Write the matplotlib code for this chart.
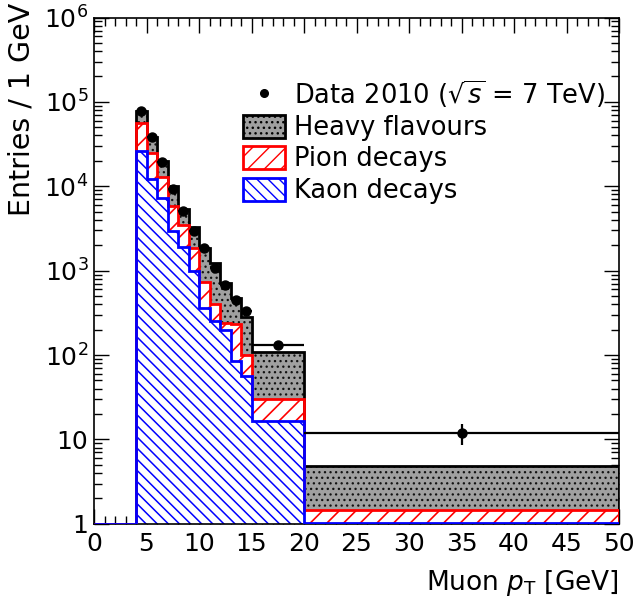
import numpy as np
import matplotlib
matplotlib.use("Agg")
import matplotlib.pyplot as plt
from matplotlib.patches import Patch
from matplotlib.lines import Line2D
from matplotlib.ticker import MultipleLocator, LogLocator, FixedLocator, FuncFormatter, NullFormatter

# ---- histogram content (entries / 1 GeV) ----
bin_edges = [0, 4, 5, 6, 7, 8, 9, 10, 11, 12, 13, 14, 15, 20, 50]

kaon_decays = [0, 26400, 12300, 7270, 2920, 1900, 1000, 360, 252, 199, 84, 56, 16.7, 1.03]
pion_decays = [0, 29600, 12500, 5530, 2860, 1530, 850, 365, 153, 40, 152, 44, 13.3, 0.43]
heavy_flavours = [0, 22900, 13200, 7300, 4220, 1990, 1400, 1125, 815, 474, 237, 186, 80, 3.39]

# data points live in the populated bins (4-5 GeV onwards)
data_counts = [77500, 38000, 19400, 9300, 5150, 2920, 1850, 1070, 675, 447, 330, 131, 12]
data_errors = [280, 195, 139, 96, 72, 54, 43, 33, 26, 21, 18, 11, 3.4]

y_decades = [0, 1, 2, 3, 4, 5, 6]
y_min, y_max = 1, 1e6

plt.rcParams["font.family"] = ["DejaVu Sans"]
plt.rcParams["mathtext.fontset"] = "dejavusans"

fig = plt.figure(figsize=(6.37, 6.09), dpi=100)
W, H = 637, 609
ax = fig.add_axes([94 / W, 1 - 523.8 / H, (619 - 94) / W, (523.8 - 17.5) / H])
ax.set_yscale("log")

edges = np.array(bin_edges, dtype=float)
kaon = np.array(kaon_decays)
pion = np.array(pion_decays)
heavy = np.array(heavy_flavours)

# stacked tops: kaon at the bottom, pion on top of it, heavy flavours on top
top_kaon = kaon
top_pion = kaon + pion
top_total = kaon + pion + heavy

layers = [
    # tops, face, hatch, hatch colour, outline colour, hatch width
    (top_total, "#a0a0a0", "...", "#111111", "black", 0.9),
    (top_pion, "white", "//", "red", "red", 1.2),
    (top_kaon, "white", "\\\\\\", "blue", "blue", 1.1),
]
for tops, face, hatch, hcol, lcol, hlw in layers:
    plt.rcParams["hatch.linewidth"] = hlw
    vals = np.maximum(tops, y_min)
    ax.stairs(vals, edges, baseline=y_min, fill=True, facecolor=face,
              edgecolor=hcol, hatch=hatch, linewidth=0, zorder=2)
    ax.stairs(vals, edges, baseline=y_min, fill=False, color=lcol,
              linewidth=2.0, zorder=3)

# data with bin-width horizontal bars
centers = 0.5 * (edges[2:] + edges[1:-1])
half_w = 0.5 * (edges[2:] - edges[1:-1])
ax.errorbar(centers, data_counts, xerr=half_w, yerr=data_errors, fmt="o",
            color="black", ms=6.5, elinewidth=1.6, capsize=0, zorder=5)

# ---- axes ----
ax.set_xlim(0, 50)
ax.set_ylim(y_min, y_max)
ax.xaxis.set_major_locator(MultipleLocator(5))
ax.xaxis.set_minor_locator(MultipleLocator(1))
ax.yaxis.set_major_locator(FixedLocator([10.0 ** d for d in y_decades]))
ax.yaxis.set_minor_locator(LogLocator(base=10, subs=np.arange(2, 10), numticks=20))
ax.yaxis.set_minor_formatter(NullFormatter())


def ylabel_fmt(v, pos):
    if np.isclose(v, 1):
        return "1"
    if np.isclose(v, 10):
        return "10"
    return r"$\mathdefault{10^{%d}}$" % int(round(np.log10(v)))


ax.yaxis.set_major_formatter(FuncFormatter(ylabel_fmt))
ax.tick_params(which="both", direction="in", top=True, right=True, width=1.0,
               labelsize=18)
ax.tick_params(which="major", length=11)
ax.tick_params(which="minor", length=5.5)
ax.tick_params(axis="x", pad=6)
ax.tick_params(axis="y", pad=4)
for sp in ax.spines.values():
    sp.set_linewidth(1.2)
    sp.set_zorder(2.5)

fig.text(619 / W, 1 - 583 / H, r"Muon $p_{\mathrm{T}}$ [GeV]", ha="right",
         va="center", fontsize=19)
fig.text(22 / W, 1 - 3 / H, "Entries / 1 GeV", rotation=90, ha="center",
         va="top", fontsize=20.5)

# ---- legend ----
handles = [
    Line2D([], [], marker="o", color="black", ls="none", ms=5.5),
    Patch(facecolor="#a0a0a0", edgecolor="black", hatch="...", linewidth=2),
    Patch(facecolor="white", edgecolor="red", hatch="//", linewidth=2),
    Patch(facecolor="white", edgecolor="blue", hatch="\\\\\\", linewidth=2),
]
labels = [r"Data 2010 ($\sqrt{s}$ = 7 TeV)", "Heavy flavours", "Pion decays",
          "Kaon decays"]
plt.rcParams["hatch.linewidth"] = 1.0
ax.legend(handles, labels, loc="upper left",
          bbox_to_anchor=(243 / W, 1 - 78 / H), bbox_transform=fig.transFigure,
          frameon=False, fontsize=18.5, handlelength=1.62, handleheight=1.0,
          handletextpad=0.38, labelspacing=0.2, borderpad=0, borderaxespad=0)

fig.savefig("out.png", dpi=100)
